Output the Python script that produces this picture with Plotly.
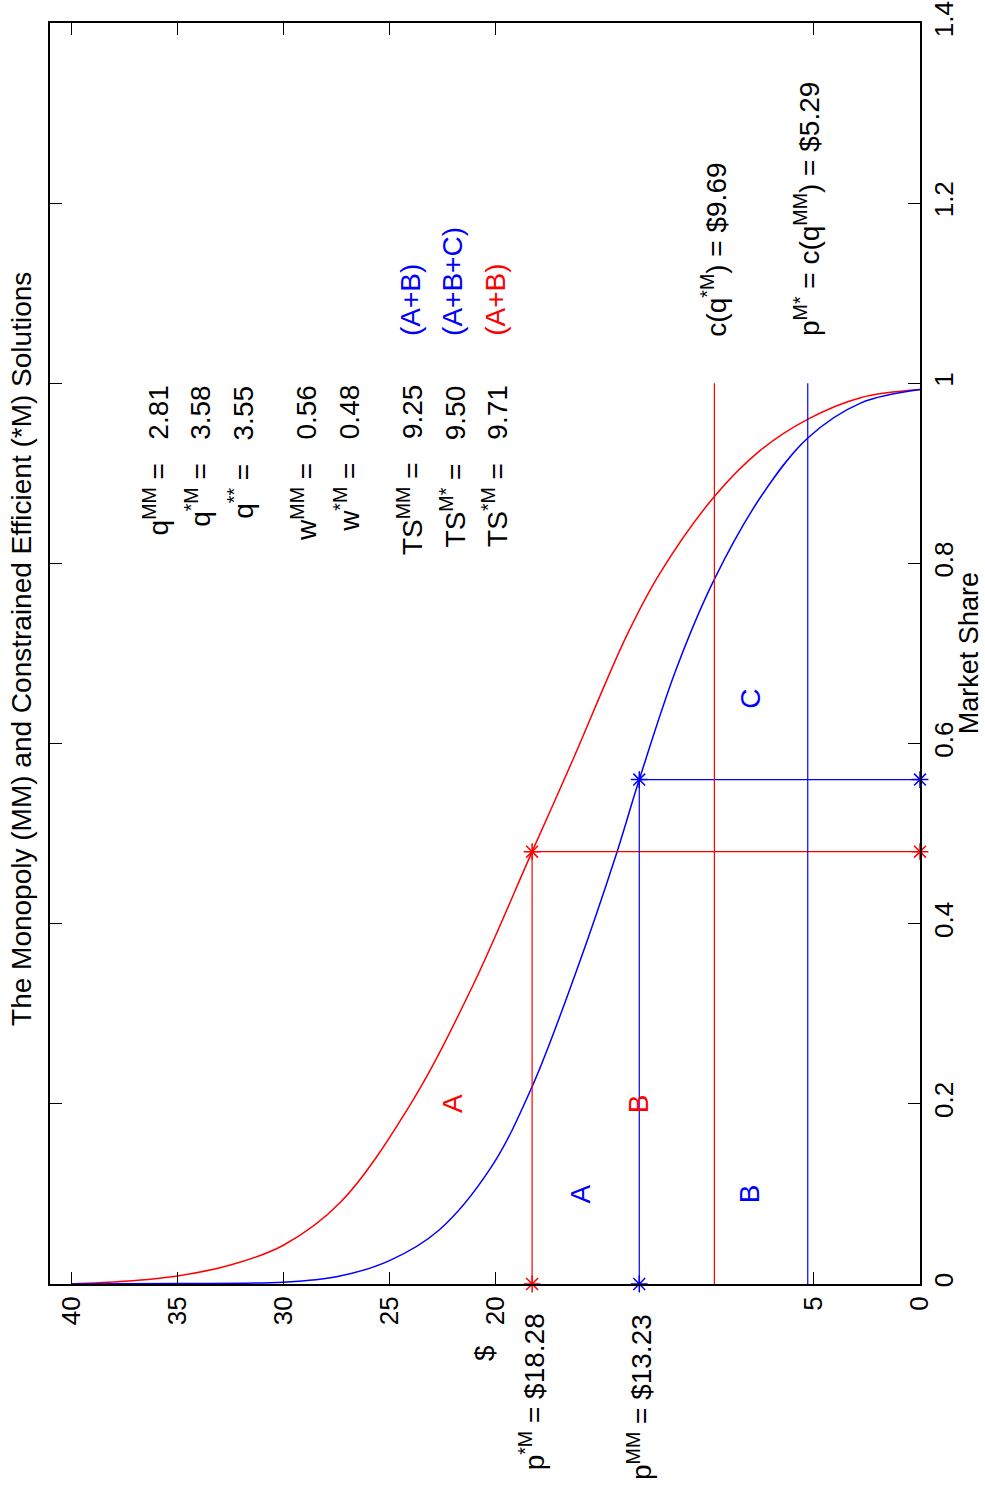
import plotly.graph_objects as go

# ---- data (price $, market share) ----
price_red = [40, 37.5, 35, 32.5, 30, 27.3, 24.0, 21.1, 18.28, 16.36, 13.84, 12.26, 9.7, 7.5, 5.3, 2.8, 0]
share_red = [0, 0.003, 0.009, 0.021, 0.043, 0.091, 0.200, 0.330, 0.48, 0.582, 0.719, 0.789, 0.874, 0.926, 0.960, 0.984, 0.993]

price_blue = [40, 35, 30, 27.5, 25, 22.66, 20.2, 18.3, 16.2, 14.3, 13.23, 11.5, 9.7, 7.5, 5.3, 2.8, 0]
share_blue = [0, 0.0005, 0.002, 0.008, 0.026, 0.060, 0.130, 0.218, 0.347, 0.478, 0.56, 0.682, 0.782, 0.874, 0.939, 0.978, 0.993]

p_star_m = 18.28   # p*M
w_star_m = 0.48
p_mm = 13.23       # pMM
w_mm = 0.56
c_q_star = 9.69
p_m_star = 5.29

price_ticks = [0, 5, 20, 25, 30, 35, 40]
share_ticks = [0, 0.2, 0.4, 0.6, 0.8, 1.0, 1.2, 1.4]
share_ticktext = ["0", "0.2", "0.4", "0.6", "0.8", "1", "1.2", "1.4"]

stats_text = [
    "q<sup>MM</sup> =\u00a0\u00a0\u00a02.81",
    "q<sup>*M</sup> =\u00a0\u00a0\u00a03.58",
    "q<sup>**</sup> =\u00a0\u00a0\u00a03.55",
    "w<sup>MM</sup> =\u00a0\u00a0\u00a00.56",
    "w<sup>*M</sup> =\u00a0\u00a0\u00a00.48",
    "TS<sup>MM</sup> =\u00a0\u00a0\u00a09.25",
    "TS<sup>M*</sup> =\u00a0\u00a0\u00a09.50",
    "TS<sup>*M</sup> =\u00a0\u00a0\u00a09.71",
]
stats_pos = [36, 34, 32, 29, 27, 24, 22, 20]

area_text = ["(A+B)", "(A+B+C)", "(A+B)"]
area_color = ["#0000ff", "#0000ff", "#ff0000"]
area_pos = [24, 22, 20]

RED = "#ff0000"
BLUE = "#0000ff"
FONT = "Liberation Sans, Arial, sans-serif"
TXT = 28

fig = go.Figure()

fig.add_trace(go.Scatter(x=price_red, y=share_red, mode="lines",
                         line=dict(color=RED, width=1.5, shape="spline")))
fig.add_trace(go.Scatter(x=price_blue, y=share_blue, mode="lines",
                         line=dict(color=BLUE, width=1.5, shape="spline")))

star = dict(symbol="asterisk-open", size=14)
fig.add_trace(go.Scatter(x=[p_star_m, p_star_m, 0], y=[0, w_star_m, w_star_m],
                         mode="lines+markers", cliponaxis=False,
                         line=dict(color=RED, width=1.2),
                         marker=dict(**star, color=RED, line=dict(color=RED, width=1.5))))
fig.add_trace(go.Scatter(x=[p_mm, p_mm, 0], y=[0, w_mm, w_mm],
                         mode="lines+markers", cliponaxis=False,
                         line=dict(color=BLUE, width=1.2),
                         marker=dict(**star, color=BLUE, line=dict(color=BLUE, width=1.5))))
fig.add_trace(go.Scatter(x=[c_q_star, c_q_star], y=[0, 1], mode="lines",
                         line=dict(color=RED, width=1.2)))
fig.add_trace(go.Scatter(x=[p_m_star, p_m_star], y=[0, 1], mode="lines",
                         line=dict(color=BLUE, width=1.2)))

ann = []


def txt(x, y, text, color="black", size=TXT, xanchor="center", yanchor="middle",
        xref="x", yref="y"):
    ann.append(dict(x=x, y=y, xref=xref, yref=yref, text=text, showarrow=False,
                    textangle=-90, xanchor=xanchor, yanchor=yanchor,
                    font=dict(family=FONT, size=size, color=color)))


# statistics block
for t, p in zip(stats_text, stats_pos):
    txt(p, 1.0, t, yanchor="top")
for t, c, p in zip(area_text, area_color, area_pos):
    txt(p, 1.05, t, color=c, yanchor="bottom")

# cost labels
txt(c_q_star, 1.05, "c(q<sup>*M</sup>) = $9.69", yanchor="bottom")
txt(p_m_star, 1.05, "p<sup>M*</sup> = c(q<sup>MM</sup>) = $5.29", yanchor="bottom")

# price labels below axis
txt(p_star_m, -0.022, "p<sup>*M</sup> = $18.28", yanchor="top", yref="paper")
txt(p_mm, -0.022, "p<sup>MM</sup> = $13.23", yanchor="top", yref="paper")
txt(0.5, -0.0547, "$", xref="paper", yref="paper")

# area letters
txt(22.0, 0.2, "A", color=RED)
txt(p_mm, 0.2, "B", color=RED)
txt(16.0, 0.1, "A", color=BLUE)
txt(8.0, 0.1, "B", color=BLUE)
txt(8.0, 0.65, "C", color=BLUE)

# axis title & figure title
txt(1.0565, 0.5004, "Market Share", size=27, xref="paper", yref="paper")
txt(-0.0322, 0.5036, "The Monopoly (MM) and Constrained Efficient (*M) Solutions",
    xref="paper", yref="paper")

axis_common = dict(tickangle=-90, ticks="inside", ticklen=12, tickwidth=1.2,
                   tickcolor="black", showline=True, linewidth=2, linecolor="black",
                   mirror="ticks", showgrid=False, zeroline=False, automargin=False,
                   ticklabelstandoff=0, tickfont=dict(family=FONT, size=26))

fig.update_layout(
    width=985, height=1493,
    margin=dict(l=50, r=65, t=23, b=209),
    paper_bgcolor="white", plot_bgcolor="white",
    showlegend=False,
    font=dict(family=FONT, size=26, color="black"),
    annotations=ann,
    xaxis=dict(range=[41, 0], tickvals=price_ticks, **axis_common),
    yaxis=dict(range=[0, 1.4], tickvals=share_ticks, ticktext=share_ticktext,
               side="right", **axis_common),
)

fig.write_html("out.html", config={"displayModeBar": False},
               post_script="document.body.style.margin='0px';")
